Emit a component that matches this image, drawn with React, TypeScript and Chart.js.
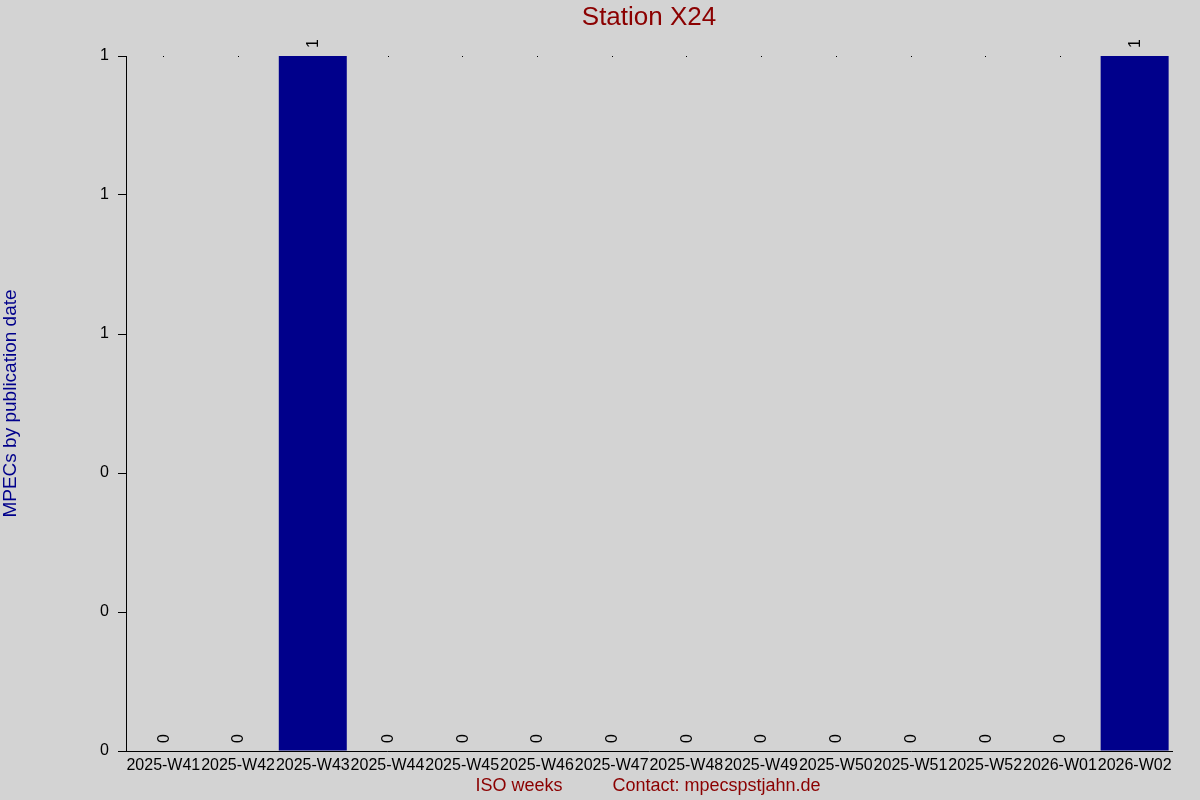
import React, { useEffect, useRef } from "react";
import { Chart, registerables } from "chart.js";

Chart.register(...registerables);

const categories = [
  "2025-W41", "2025-W42", "2025-W43", "2025-W44", "2025-W45", "2025-W46", "2025-W47",
  "2025-W48", "2025-W49", "2025-W50", "2025-W51", "2025-W52", "2026-W01", "2026-W02",
];
const counts = [0, 0, 1, 0, 0, 0, 0, 0, 0, 0, 0, 0, 0, 1];

const titleText = "Station X24";
const yTitleText = "MPECs by publication date";
const xTitleText = "ISO weeks          Contact: mpecspstjahn.de";

const FONT = "'Liberation Sans', Arial, sans-serif";

const decorPlugin = {
  id: "decor",
  beforeDraw(chart: any) {
    const { ctx, width, height } = chart;
    ctx.save();
    ctx.fillStyle = "#d3d3d3";
    ctx.fillRect(0, 0, width, height);
    ctx.restore();
  },
  afterDraw(chart: any) {
    const { ctx, chartArea } = chart;
    const cx = (chartArea.left + chartArea.right) / 2;
    const cy = (chartArea.top + chartArea.bottom) / 2;
    ctx.save();
    // title
    ctx.fillStyle = "#8b0000";
    ctx.font = `26px ${FONT}`;
    ctx.textAlign = "center";
    ctx.textBaseline = "middle";
    ctx.fillText(titleText, cx, 18);
    // x title
    ctx.font = `18px ${FONT}`;
    ctx.fillText(xTitleText, cx - 1, 786);
    // y title
    ctx.save();
    ctx.translate(11, cy);
    ctx.rotate(-Math.PI / 2);
    ctx.fillStyle = "#00008b";
    ctx.font = `19px ${FONT}`;
    ctx.fillText(yTitleText, 0, 0);
    ctx.restore();

    // data labels and top dots
    const meta = chart.getDatasetMeta(0);
    const yScale = chart.scales.y;
    const topY = yScale.getPixelForValue(yScale.max);
    ctx.fillStyle = "#000";
    meta.data.forEach((bar: any, i: number) => {
      const v = counts[i];
      if (v === 0) {
        ctx.fillRect(Math.round(bar.x), Math.round(topY), 1, 1);
      }
      ctx.save();
      ctx.translate(bar.x + 1, bar.y - 8);
      ctx.rotate(-Math.PI / 2);
      ctx.font = `16px ${FONT}`;
      ctx.textAlign = "left";
      ctx.textBaseline = "middle";
      ctx.fillText(String(v), 0, 0);
      ctx.restore();
    });
    ctx.restore();
  },
};

export default function App() {
  const ref = useRef<HTMLCanvasElement | null>(null);
  useEffect(() => {
    document.body.style.margin = "0";
    document.body.style.background = "#d3d3d3";
    const canvas = ref.current;
    if (!canvas) return;
    const chart = new Chart(canvas, {
      type: "bar",
      data: {
        labels: categories,
        datasets: [
          {
            data: counts,
            backgroundColor: "#00008b",
            borderWidth: 0,
            barPercentage: 0.91,
            categoryPercentage: 1,
          },
        ],
      },
      options: {
        responsive: false,
        animation: false,
        devicePixelRatio: 1,
        layout: { padding: { top: 56, right: 28, left: 0, bottom: 0 } },
        plugins: {
          legend: { display: false },
          title: { display: false },
          tooltip: { enabled: false },
        },
        scales: {
          x: {
            afterFit: (s: any) => {
              s.height = 49;
            },
            grid: { display: true, drawOnChartArea: false, drawTicks: false },
            border: { display: true, color: "#000", width: 1 },
            ticks: {
              color: "#000",
              font: { family: FONT, size: 16 },
              padding: 5,
              maxRotation: 0,
              minRotation: 0,
              autoSkip: false,
            },
          },
          y: {
            min: 0,
            max: 1,
            afterFit: (s: any) => {
              s.width = 126;
            },
            grid: {
              display: true,
              drawOnChartArea: false,
              drawTicks: true,
              tickLength: 8,
              color: "#000",
            },
            border: { display: true, color: "#000", width: 1 },
            ticks: {
              stepSize: 0.2,
              color: "#000",
              font: { family: FONT, size: 16 },
              padding: 9,
              callback: (v: any) => String(Math.round(Number(v))),
            },
          },
        },
      },
      plugins: [decorPlugin],
    });
    return () => chart.destroy();
  }, []);
  return (
    <canvas
      ref={ref}
      width={1200}
      height={800}
      style={{ display: "block", width: 1200, height: 800 }}
    />
  );
}
